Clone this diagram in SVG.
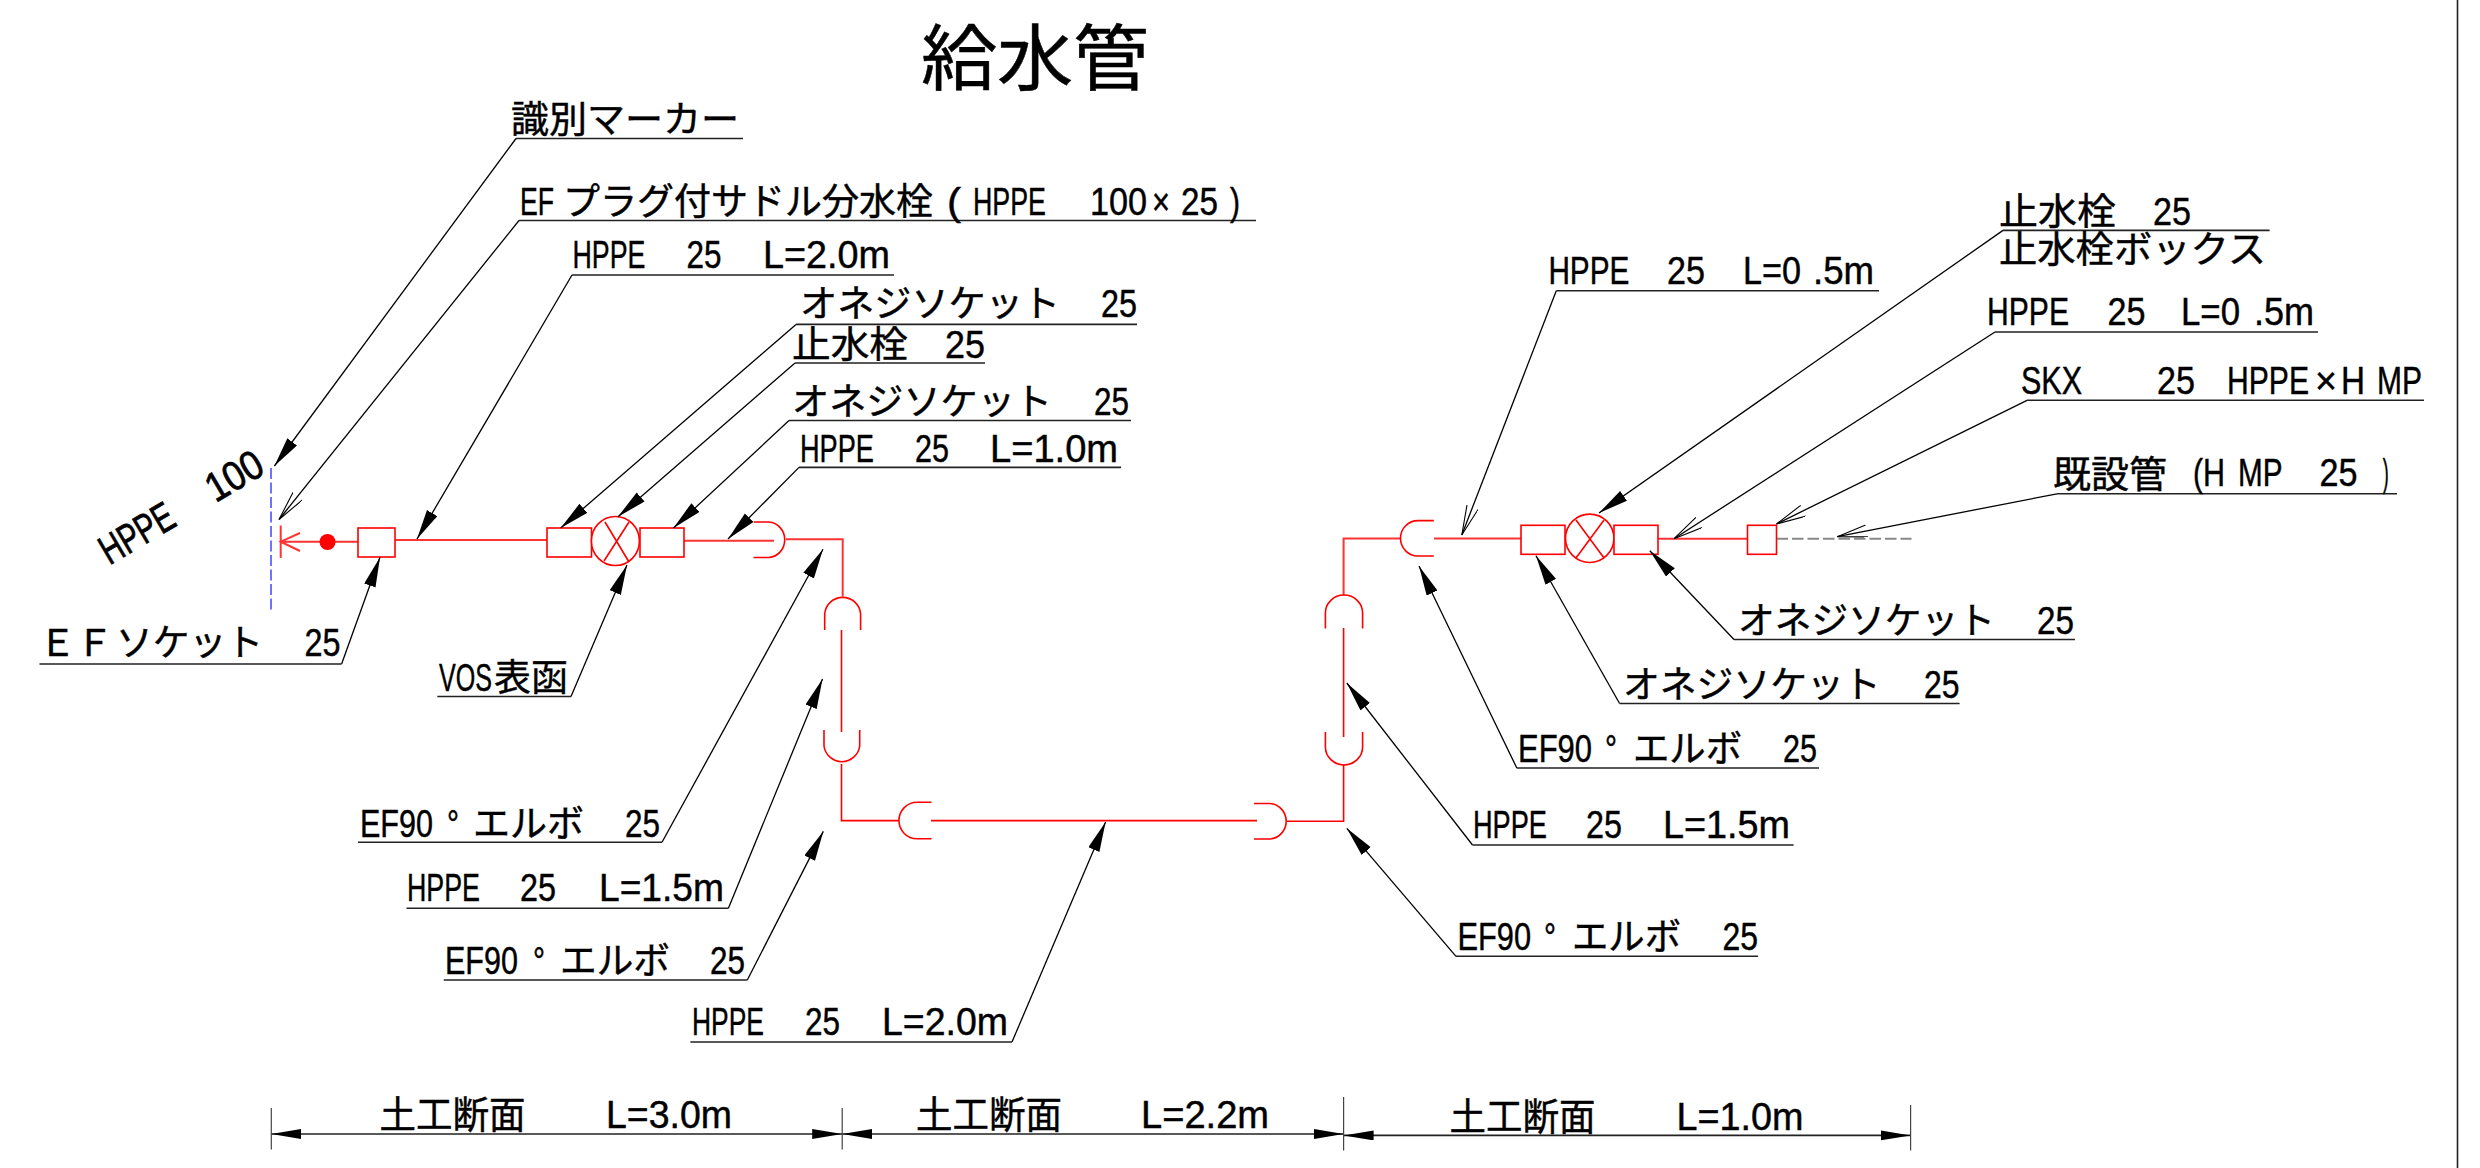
<svg xmlns="http://www.w3.org/2000/svg" width="2480" height="1168" viewBox="0 0 2480 1168">
<style>
text{fill:#000;stroke:#000;stroke-width:.45;font-family:"Liberation Sans","Noto Sans CJK JP",sans-serif;font-size:38px}
tspan{font-family:"Liberation Sans","Noto Sans CJK JP",sans-serif}
tspan.c{font-family:"Noto Sans CJK JP","Liberation Sans",sans-serif;font-size:37px}
.d tspan.c{font-size:38px}
.ul{stroke:#222;stroke-width:1.6;fill:none}
.ld{stroke:#000;stroke-width:1.3;fill:none}
.fa{marker-end:url(#fa)}
.oa{marker-end:url(#oa)}
.dm{stroke:#222;stroke-width:1.6;fill:none;marker-start:url(#da);marker-end:url(#da)}
.ex{stroke:#444;stroke-width:1.2}
.p{stroke:#f00;stroke-width:1.6;fill:none}
.m{stroke:#f33;stroke-width:2;fill:none}
.q{stroke:#f00;stroke-width:1.6;fill:#fff}
</style>
<defs>
<marker id="fa" markerUnits="userSpaceOnUse" markerWidth="32" markerHeight="14" refX="30" refY="6" orient="auto"><path d="M0,0L30,6L0,12Z" fill="#000"/></marker>
<marker id="oa" markerUnits="userSpaceOnUse" markerWidth="32" markerHeight="14" refX="30" refY="6" orient="auto"><path d="M0,0L30,6L0,12" fill="none" stroke="#000" stroke-width="1.1"/></marker>
<marker id="da" markerUnits="userSpaceOnUse" markerWidth="32" markerHeight="12" refX="30" refY="5" orient="auto-start-reverse"><path d="M0,0L30,5L0,10Z" fill="#000"/></marker>
</defs>
<rect width="2480" height="1168" fill="#fff"/>
<line x1="2457.5" y1="0" x2="2457.5" y2="1168" stroke="#222" stroke-width="1.6"/>

<g id="title"><text x="921" y="84" style="font-size:72px;font-family:'Noto Sans CJK JP',sans-serif" textLength="228" lengthAdjust="spacingAndGlyphs">給水管</text></g>

<g id="pipe-run">
<path class="m" d="M280.7 525.5V558M300 533L280.7 541.7L300 551M280.7 541.7H358"/>
<circle cx="327.5" cy="542" r="8" fill="#f00"/>
<path class="m" d="M395 540H547M684 540.7H774M786 539.3H842.7V596.5"/>
<path class="p" d="M841.5 630V732M841.5 764V820.6H899M931 820.6H1257M1287 821.3H1343.6V764.7M1343.6 737V628M1343.6 595"/>
<path class="m" d="M1343.6 595V538.5H1400.5M1434 538.5H1521M1658 538.7H1747.5"/>
<path d="M1776.5 538.7H1911.5" stroke="#888" stroke-width="2" stroke-dasharray="11.5 4" fill="none"/>
</g>
<g id="marker-line"><line x1="271" y1="468" x2="271" y2="613" stroke="#44f" stroke-width="1.5" stroke-dasharray="11 3.5"/></g>
<g id="ef-socket"><rect class="q" x="358" y="528" width="37" height="29"/></g>
<g id="socket-l1"><rect class="q" x="547" y="528" width="44.5" height="29"/></g>
<g id="valve-l"><ellipse class="q" cx="615.4" cy="541" rx="24" ry="24.5"/><path class="p" d="M605 522L629 562M629 522L604 561"/></g>
<g id="socket-l2"><rect class="q" x="640" y="528" width="44" height="29"/></g>
<g id="elbow-1"><path class="p" d="M753.5 522H769A17 17.8 0 0 1 769 557.5H753.5"/></g>
<g id="elbow-2"><path class="p" d="M824.7 630V614A18 18 0 0 1 860.6 614V630"/></g>
<g id="elbow-3"><path class="p" d="M824 730V746A18 18 0 0 0 859.7 746V730"/></g>
<g id="elbow-4"><path class="p" d="M931.5 802.3H917A18 18.2 0 0 0 917 838.8H931.5"/></g>
<g id="elbow-5"><path class="p" d="M1254 803.5H1270A17.5 17.8 0 0 1 1270 839H1254"/></g>
<g id="elbow-6"><path class="p" d="M1325.4 732V747A18.6 18 0 0 0 1362.6 747V732"/></g>
<g id="elbow-7"><path class="p" d="M1325.4 628.6V613A18.6 18 0 0 1 1362.6 613V628.6"/></g>
<g id="elbow-8"><path class="p" d="M1433.8 520.6H1418A17.5 17.7 0 0 0 1418 556H1433.8"/></g>
<g id="socket-r1"><rect class="q" x="1521" y="525.3" width="44" height="29"/></g>
<g id="valve-r"><circle class="q" cx="1589.7" cy="538.3" r="24.2"/><path class="p" d="M1576 520L1604 558M1604 520L1576 558"/></g>
<g id="socket-r2"><rect class="q" x="1614" y="525.3" width="44" height="29"/></g>
<g id="socket-r3"><rect class="q" x="1747.5" y="525.3" width="29" height="29"/></g>

<g id="connectors">
<path class="ld fa" d="M516 138.5L274.4 466"/>
<path class="ld oa" d="M519 220.5L279 519.5"/>
<path class="ld fa" d="M572 275L417 539"/>
<path class="ld fa" d="M796 324.4L560.7 528"/>
<path class="ld fa" d="M795 363L618 516.7"/>
<path class="ld fa" d="M789 420.5L673.5 528"/>
<path class="ld fa" d="M799 467.4L728 539"/>
<path class="ld fa" d="M341.6 664L380 557.3"/>
<path class="ld fa" d="M571 696.5L627 565"/>
<path class="ld fa" d="M662 842.3L823 549.3"/>
<path class="ld fa" d="M728.4 908.2L822.5 679"/>
<path class="ld fa" d="M747.3 980L823.3 831.4"/>
<path class="ld fa" d="M1012 1042L1105.6 822"/>
<path class="ld oa" d="M1556.3 290.8L1461.8 535"/>
<path class="ld fa" d="M2003 230.4L1599 513"/>
<path class="ld oa" d="M1995 332L1674 538.7"/>
<path class="ld oa" d="M2027 400.3L1776.5 524"/>
<path class="ld oa" d="M2057 493.8L1837.3 536.7"/>
<path class="ld fa" d="M1734 639.5L1649.8 550.7"/>
<path class="ld fa" d="M1619.6 703.5L1536 555.7"/>
<path class="ld fa" d="M1516.8 768L1419 566"/>
<path class="ld fa" d="M1472.5 845L1346.8 683"/>
<path class="ld fa" d="M1456 956.3L1346.8 828.3"/>
<path class="ul" d="M516 138.5H743M519 220.5H1256M572 275H894M796 324.4H1137M795 363H985M789 420.5H1131M799 467.4H1121M39.5 664H341.6M437.3 696.5H571M358 842.3H662M406.5 908.2H728.4M443.7 980H747.3M690.4 1042H1012"/>
<path class="ul" d="M1556.3 290.8H1879M2003 230.4H2269.6M1995 332H2318M2027 400.3H2424M2057 493.8H2397M1734 639.5H2075M1619.6 703.5H1959.6M1516.8 768H1819M1472.5 845H1793.6M1456 956.3H1758"/>
<path class="dm" d="M271.3 1134H842.2"/>
<path class="dm" d="M842.2 1134H1343.6"/>
<path class="dm" d="M1343.6 1135.4H1910.6"/>
<path class="ex" d="M271.3 1108V1149.4M842.2 1108V1149.4M1343.6 1097V1150.5M1910.6 1105V1150.5"/>
</g>

<g id="l1"><text y="133"><tspan class="c" x="511" textLength="228" lengthAdjust="spacingAndGlyphs">識別マーカー</tspan></text></g>
<g id="l2"><text y="215"><tspan x="520" textLength="34" lengthAdjust="spacingAndGlyphs">EF</tspan><tspan class="c" x="563" y="215" textLength="370" lengthAdjust="spacingAndGlyphs">プラグ付サドル分水栓</tspan> <tspan x="947" textLength="14" lengthAdjust="spacingAndGlyphs">(</tspan> <tspan x="973" textLength="73" lengthAdjust="spacingAndGlyphs">HPPE</tspan> <tspan x="1090" textLength="57" lengthAdjust="spacingAndGlyphs">100</tspan> <tspan x="1152" textLength="18" lengthAdjust="spacingAndGlyphs">×</tspan> <tspan x="1181" textLength="37" lengthAdjust="spacingAndGlyphs">25</tspan> <tspan x="1230" textLength="10" lengthAdjust="spacingAndGlyphs">)</tspan></text></g>
<g id="l3"><text y="268"><tspan x="572.5" textLength="73" lengthAdjust="spacingAndGlyphs">HPPE</tspan> <tspan x="686.5" textLength="35" lengthAdjust="spacingAndGlyphs">25</tspan> <tspan x="763" textLength="127" lengthAdjust="spacingAndGlyphs">L=2.0m</tspan></text></g>
<g id="l4"><text y="316.5"><tspan class="c" x="800" textLength="260" lengthAdjust="spacingAndGlyphs">オネジソケット</tspan> <tspan x="1101" textLength="36" lengthAdjust="spacingAndGlyphs">25</tspan></text></g>
<g id="l5"><text y="357.5"><tspan class="c" x="792" textLength="116" lengthAdjust="spacingAndGlyphs">止水栓</tspan> <tspan x="945" textLength="40" lengthAdjust="spacingAndGlyphs">25</tspan></text></g>
<g id="l6"><text y="414.5"><tspan class="c" x="792" textLength="260" lengthAdjust="spacingAndGlyphs">オネジソケット</tspan> <tspan x="1094" textLength="35" lengthAdjust="spacingAndGlyphs">25</tspan></text></g>
<g id="l7"><text y="462"><tspan x="800" textLength="74" lengthAdjust="spacingAndGlyphs">HPPE</tspan> <tspan x="915" textLength="34" lengthAdjust="spacingAndGlyphs">25</tspan> <tspan x="990" textLength="128" lengthAdjust="spacingAndGlyphs">L=1.0m</tspan></text></g>
<g id="l8"><text transform="translate(112 564) rotate(-30.5)" style="font-size:41px;stroke-width:.8"><tspan x="-3" textLength="80" lengthAdjust="spacingAndGlyphs">HPPE</tspan> <tspan x="120" textLength="60" lengthAdjust="spacingAndGlyphs">100</tspan></text></g>
<g id="l9"><text y="656"><tspan class="c" x="39" textLength="74" lengthAdjust="spacingAndGlyphs">ＥＦ</tspan><tspan class="c" x="116" textLength="147" lengthAdjust="spacingAndGlyphs">ソケット</tspan> <tspan x="304.5" textLength="36" lengthAdjust="spacingAndGlyphs">25</tspan></text></g>
<g id="l10"><text y="691"><tspan x="439" textLength="53" lengthAdjust="spacingAndGlyphs">VOS</tspan><tspan class="c" x="494" textLength="74" lengthAdjust="spacingAndGlyphs">表函</tspan></text></g>
<g id="l11"><text y="836.5"><tspan x="360" textLength="73" lengthAdjust="spacingAndGlyphs">EF90</tspan><tspan x="447" textLength="12" lengthAdjust="spacingAndGlyphs">°</tspan> <tspan class="c" x="473" textLength="111" lengthAdjust="spacingAndGlyphs">エルボ</tspan> <tspan x="625" textLength="35" lengthAdjust="spacingAndGlyphs">25</tspan></text></g>
<g id="l12"><text y="901"><tspan x="407" textLength="73" lengthAdjust="spacingAndGlyphs">HPPE</tspan> <tspan x="520" textLength="36" lengthAdjust="spacingAndGlyphs">25</tspan> <tspan x="599" textLength="125" lengthAdjust="spacingAndGlyphs">L=1.5m</tspan></text></g>
<g id="l13"><text y="973.7"><tspan x="445" textLength="73" lengthAdjust="spacingAndGlyphs">EF90</tspan><tspan x="533" textLength="12" lengthAdjust="spacingAndGlyphs">°</tspan> <tspan class="c" x="560" textLength="110" lengthAdjust="spacingAndGlyphs">エルボ</tspan> <tspan x="710" textLength="35" lengthAdjust="spacingAndGlyphs">25</tspan></text></g>
<g id="l14"><text y="1035.4"><tspan x="692" textLength="72" lengthAdjust="spacingAndGlyphs">HPPE</tspan> <tspan x="805" textLength="35" lengthAdjust="spacingAndGlyphs">25</tspan> <tspan x="882" textLength="126" lengthAdjust="spacingAndGlyphs">L=2.0m</tspan></text></g>
<g id="d1" class="d"><text y="1128"><tspan class="c" x="379.6" textLength="146" lengthAdjust="spacingAndGlyphs">土工断面</tspan> <tspan x="606" textLength="126" lengthAdjust="spacingAndGlyphs">L=3.0m</tspan></text></g>
<g id="d2" class="d"><text y="1128"><tspan class="c" x="916" textLength="146" lengthAdjust="spacingAndGlyphs">土工断面</tspan> <tspan x="1141" textLength="128" lengthAdjust="spacingAndGlyphs">L=2.2m</tspan></text></g>
<g id="d3" class="d"><text y="1130"><tspan class="c" x="1449.6" textLength="146" lengthAdjust="spacingAndGlyphs">土工断面</tspan> <tspan x="1676.5" textLength="127" lengthAdjust="spacingAndGlyphs">L=1.0m</tspan></text></g>
<g id="r1"><text y="284"><tspan x="1548.4" textLength="81" lengthAdjust="spacingAndGlyphs">HPPE</tspan> <tspan x="1667" textLength="38" lengthAdjust="spacingAndGlyphs">25</tspan> <tspan x="1743" textLength="58" lengthAdjust="spacingAndGlyphs">L=0</tspan> <tspan x="1813" textLength="61" lengthAdjust="spacingAndGlyphs">.5m</tspan></text></g>
<g id="r2"><text y="225"><tspan class="c" x="1999" textLength="117" lengthAdjust="spacingAndGlyphs">止水栓</tspan> <tspan x="2153" textLength="38" lengthAdjust="spacingAndGlyphs">25</tspan></text></g>
<g id="r3"><text y="262.5"><tspan class="c" x="1999" textLength="267" lengthAdjust="spacingAndGlyphs">止水栓ボックス</tspan></text></g>
<g id="r4"><text y="325"><tspan x="1987" textLength="82" lengthAdjust="spacingAndGlyphs">HPPE</tspan> <tspan x="2107.5" textLength="38" lengthAdjust="spacingAndGlyphs">25</tspan> <tspan x="2181" textLength="59" lengthAdjust="spacingAndGlyphs">L=0</tspan> <tspan x="2254" textLength="60" lengthAdjust="spacingAndGlyphs">.5m</tspan></text></g>
<g id="r5"><text y="394"><tspan x="2021" textLength="61" lengthAdjust="spacingAndGlyphs">SKX</tspan> <tspan x="2157" textLength="38" lengthAdjust="spacingAndGlyphs">25</tspan> <tspan x="2227" textLength="82" lengthAdjust="spacingAndGlyphs">HPPE</tspan> <tspan x="2315" textLength="22" lengthAdjust="spacingAndGlyphs">×</tspan> <tspan x="2341" textLength="24" lengthAdjust="spacingAndGlyphs">H</tspan> <tspan x="2377" textLength="45" lengthAdjust="spacingAndGlyphs">MP</tspan></text></g>
<g id="r6"><text y="488"><tspan class="c" x="2053" textLength="114" lengthAdjust="spacingAndGlyphs">既設管</tspan> <tspan x="2193" y="486" textLength="10" lengthAdjust="spacingAndGlyphs">(</tspan><tspan x="2203" y="486" textLength="22" lengthAdjust="spacingAndGlyphs">H</tspan> <tspan x="2238" y="486" textLength="44" lengthAdjust="spacingAndGlyphs">MP</tspan> <tspan x="2319.5" y="486" textLength="38" lengthAdjust="spacingAndGlyphs">25</tspan> <tspan x="2382.7" y="486" textLength="6" lengthAdjust="spacingAndGlyphs">)</tspan></text></g>
<g id="r7"><text y="633.7"><tspan class="c" x="1738" textLength="257" lengthAdjust="spacingAndGlyphs">オネジソケット</tspan> <tspan x="2037" textLength="37" lengthAdjust="spacingAndGlyphs">25</tspan></text></g>
<g id="r8"><text y="697.6"><tspan class="c" x="1623" textLength="257.6" lengthAdjust="spacingAndGlyphs">オネジソケット</tspan> <tspan x="1924" textLength="35.6" lengthAdjust="spacingAndGlyphs">25</tspan></text></g>
<g id="r9"><text y="761.6"><tspan x="1518" textLength="74" lengthAdjust="spacingAndGlyphs">EF90</tspan><tspan x="1605" textLength="12" lengthAdjust="spacingAndGlyphs">°</tspan> <tspan class="c" x="1633" textLength="109" lengthAdjust="spacingAndGlyphs">エルボ</tspan> <tspan x="1783" textLength="34" lengthAdjust="spacingAndGlyphs">25</tspan></text></g>
<g id="r10"><text y="838.4"><tspan x="1473" textLength="74" lengthAdjust="spacingAndGlyphs">HPPE</tspan> <tspan x="1586" textLength="36" lengthAdjust="spacingAndGlyphs">25</tspan> <tspan x="1663" textLength="127" lengthAdjust="spacingAndGlyphs">L=1.5m</tspan></text></g>
<g id="r11"><text y="950"><tspan x="1457.5" textLength="73.5" lengthAdjust="spacingAndGlyphs">EF90</tspan><tspan x="1544" textLength="12" lengthAdjust="spacingAndGlyphs">°</tspan> <tspan class="c" x="1572" textLength="109" lengthAdjust="spacingAndGlyphs">エルボ</tspan> <tspan x="1722.4" textLength="35.6" lengthAdjust="spacingAndGlyphs">25</tspan></text></g>
</svg>
